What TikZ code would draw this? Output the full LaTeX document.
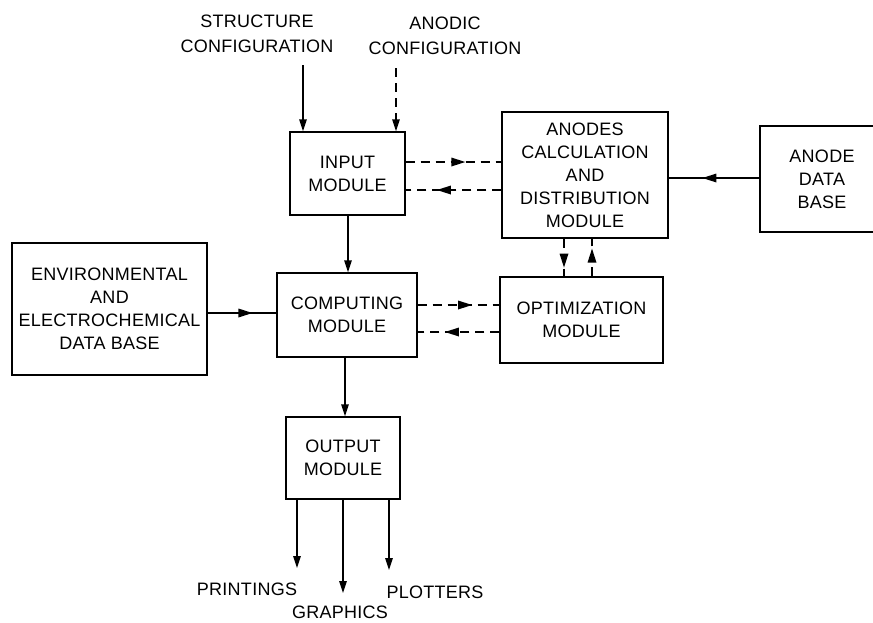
\documentclass[tikz,border=0pt]{standalone}
\usepackage{fontspec}
\setmainfont{Liberation Sans}[LetterSpace=1.5]
\usetikzlibrary{arrows.meta,decorations.markings}
\tikzset{
  x=1pt, y=-1pt,
  every picture/.style={line width=1.3pt},
  box/.style={draw, rectangle, inner sep=0pt, align=center, font=\fontsize{18}{23}\selectfont},
  lbl/.style={inner sep=0pt, align=center, font=\fontsize{18}{25}\selectfont},
  tip/.style={-{Triangle[length=12pt,width=7.5pt]}},
  dsh/.style={dash pattern=on 9pt off 6pt},
  mid/.style={postaction={decorate}, decoration={markings, mark=at position #1 with {\fill[solid] (7pt,0pt) -- (-7pt,4.5pt) -- (-7pt,-4.5pt) -- cycle;}}}
}
\begin{document}
\begin{tikzpicture}
\useasboundingbox (0,0) rectangle (873,622);
% boxes
\node[box, minimum width=115pt, minimum height=83pt] (input) at (347.5,173.5) {INPUT\\MODULE};
\node[box, minimum width=166pt, minimum height=126pt] (anodes) at (585,175) {ANODES\\CALCULATION\\AND\\DISTRIBUTION\\MODULE};
\node[box, minimum width=124pt, minimum height=106pt] (adb) at (822,179) {ANODE\\DATA\\BASE};
\node[box, minimum width=195pt, minimum height=132pt] (env) at (109.5,309) {ENVIRONMENTAL\\AND\\ELECTROCHEMICAL\\DATA BASE};
\node[box, minimum width=140pt, minimum height=84pt] (comp) at (347,315) {COMPUTING\\MODULE};
\node[box, minimum width=163pt, minimum height=86pt] (opt) at (581.5,320) {OPTIMIZATION\\MODULE};
\node[box, minimum width=114pt, minimum height=82pt] (out) at (343,458) {OUTPUT\\MODULE};
% labels
\node[lbl] (struct) at (257,34) {STRUCTURE\\CONFIGURATION};
\node[lbl] (anodic) at (445,36) {ANODIC\\CONFIGURATION};
\node[lbl] (print) at (247,589) {PRINTINGS};
\node[lbl] (graph) at (340,612) {GRAPHICS};
\node[lbl] (plot) at (435,592) {PLOTTERS};
% helper coordinates
\coordinate (s1) at (303,65);
\coordinate (a1) at (396,68);
\coordinate (y162) at (0,162);
\coordinate (y190) at (0,190);
\coordinate (y178) at (0,178);
\coordinate (y313) at (0,313);
\coordinate (y305) at (0,305);
\coordinate (y332) at (0,332);
\coordinate (x348) at (348,0);
\coordinate (x345) at (345,0);
\coordinate (x564) at (564,0);
\coordinate (x592) at (592,0);
\coordinate (p1) at (297,568);
\coordinate (p2) at (343,593);
\coordinate (p3) at (389,570);
% connectors
\draw[tip] (s1) -- (s1 |- input.north);
\draw[tip, dsh] (a1) -- (a1 |- input.north);
\draw[dsh, mid=0.55] (input.east |- y162) -- (anodes.west |- y162);
\draw[dsh, mid=0.6] (anodes.west |- y190) -- (input.east |- y190);
\draw[mid=0.55] (adb.west |- y178) -- (anodes.east |- y178);
\draw[mid=0.55] (env.east |- y313) -- (comp.west |- y313);
\draw[tip] (input.south -| x348) -- (comp.north -| x348);
\draw[dsh, mid=0.58] (comp.east |- y305) -- (opt.west |- y305);
\draw[dsh, mid=0.58] (opt.west |- y332) -- (comp.east |- y332);
\draw[dsh, mid=0.58] (anodes.south -| x564) -- (opt.north -| x564);
\draw[dsh, mid=0.55] (opt.north -| x592) -- (anodes.south -| x592);
\draw[tip] (comp.south -| x345) -- (out.north -| x345);
\draw[tip] (out.south -| p1) -- (p1);
\draw[tip] (out.south -| p2) -- (p2);
\draw[tip] (out.south -| p3) -- (p3);
\end{tikzpicture}
\end{document}
